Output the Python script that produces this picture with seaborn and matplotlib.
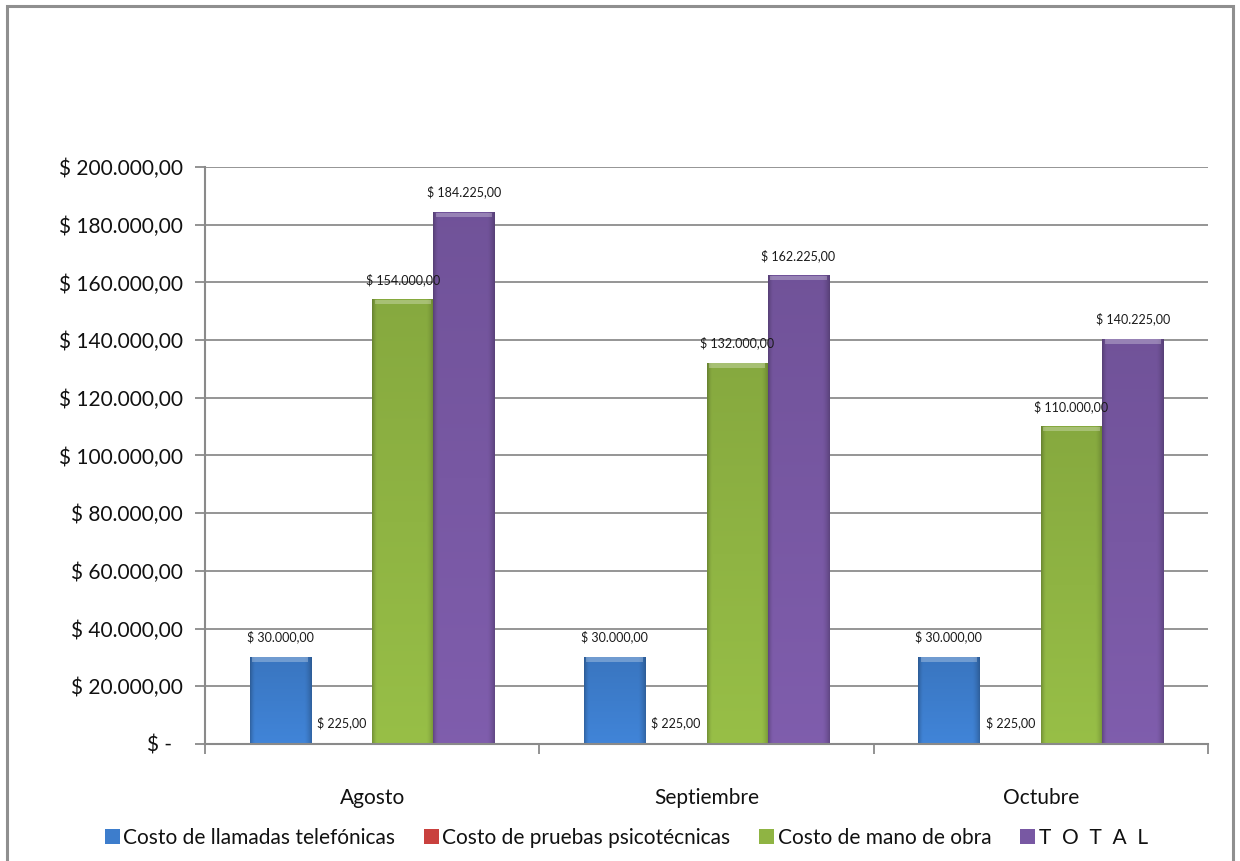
import numpy as np
import pandas as pd
import matplotlib
matplotlib.use("Agg")
import matplotlib.pyplot as plt
import matplotlib.colors as mcolors
from matplotlib.patches import Rectangle
import seaborn as sns

# Monthly costs by concept
months = ["Agosto", "Septiembre", "Octubre"]
series = ["Costo de llamadas telefónicas", "Costo de pruebas psicotécnicas",
          "Costo de mano de obra", "T  O  T  A  L"]
llamadas = [30000, 30000, 30000]
pruebas = [225, 225, 225]
mano_obra = [154000, 132000, 110000]
total = [184225, 162225, 140225]
y_ticks = [0, 20000, 40000, 60000, 80000, 100000, 120000, 140000, 160000, 180000, 200000]

colors = ["#3d7dcc", "#c9413e", "#8fb443", "#7858a3"]

df = pd.DataFrame({
    "Mes": months * 4,
    "Serie": sum([[s] * len(months) for s in series], []),
    "Valor": llamadas + pruebas + mano_obra + total,
})

sns.set_theme(style="white")
plt.rcParams["font.family"] = ["Lato", "DejaVu Sans"]

fig = plt.figure(figsize=(12.4, 8.61), dpi=100)
ax = fig.add_axes([205 / 1240, 1 - 744 / 861, (1208 - 205) / 1240, (744 - 167) / 861])

sns.barplot(data=df, x="Mes", y="Valor", hue="Serie", order=months, hue_order=series,
            palette=colors, width=0.733, gap=0, saturation=1, ax=ax, legend=False,
            edgecolor="none", linewidth=0)

ax.set_ylim(0, 200000)
ax.set_xlim(-0.5, 2.5)


def money(v):
    s = f"{v:,.2f}".replace(",", "X").replace(".", ",").replace("X", ".")
    return f"$ {s}"


# Bevelled shading over each bar
def shade(patch, base):
    x0, y0 = patch.get_x(), patch.get_y()
    w, h = patch.get_width(), patch.get_height()
    if h < 2000:
        return
    rgb = np.array(mcolors.to_rgb(base))
    nx, ny = 60, 200
    xs = np.linspace(0, 1, nx)
    ys = np.linspace(0, 1, ny)
    edge = 1 - 0.22 * (np.clip(1 - xs / 0.08, 0, 1) ** 1.5 + np.clip((xs - 0.88) / 0.12, 0, 1) ** 1.5)
    vert = 1.06 - 0.12 * ys
    fac = vert[:, None] * edge[None, :]
    img = np.clip(rgb[None, None, :] * fac[:, :, None], 0, 1)
    ax.imshow(img, extent=[x0, x0 + w, y0 + h, y0], aspect="auto",
              interpolation="bilinear", zorder=patch.get_zorder() + 0.1, origin="upper")
    band = 1500
    hl = Rectangle((x0 + w * 0.04, y0 + h - band), w * 0.92, band,
                   facecolor="white", alpha=0.28, edgecolor="none",
                   zorder=patch.get_zorder() + 0.2)
    ax.add_patch(hl)


for i, p in enumerate(list(ax.patches)):
    shade(p, colors[i // len(months)])

# Value labels above each bar
for container in ax.containers:
    ax.bar_label(container, labels=[money(v) for v in container.datavalues],
                 padding=10, fontsize=9, color="#1a1a1a", zorder=5)

ax.set_ylim(0, 200000)
ax.set_xlim(-0.5, 2.5)

# Axis styling
ax.set_yticks(y_ticks)
ax.set_yticklabels(["$ -  "] + [money(v) for v in y_ticks[1:]])
ax.yaxis.grid(True, color="#8c8c8c", linewidth=1.3)
ax.set_axisbelow(True)
for side in ["top", "right"]:
    ax.spines[side].set_visible(False)
for side in ["left", "bottom"]:
    ax.spines[side].set_color("#8a8a8a")
    ax.spines[side].set_linewidth(1.5)
ax.tick_params(axis="y", which="major", left=True, length=7, width=1.3, color="#8a8a8a",
               labelsize=15, labelcolor="#111111", pad=9)
ax.set_xticks([0, 1, 2])
ax.set_xticks([-0.5, 0.5, 1.5, 2.5], minor=True)
ax.tick_params(axis="x", which="major", length=0, labelsize=15, labelcolor="#111111", pad=32)
ax.tick_params(axis="x", which="minor", bottom=True, length=7, width=1.3, color="#8a8a8a")
ax.set_xlabel("")
ax.set_ylabel("")

# Legend
handles = [Rectangle((0, 0), 1, 1, facecolor=c, edgecolor="none") for c in colors]
fig.legend(handles, series, loc="center", bbox_to_anchor=(0.505, 1 - 838 / 861), ncol=4,
           frameon=False, fontsize=15, handlelength=0.72, handleheight=0.72,
           handletextpad=0.15, columnspacing=1.4, labelcolor="#111111")

# Chart frame
fig.patches.append(Rectangle((7 / 1240, -0.1), (1233 - 7) / 1240, 1.1 - 6 / 861,
                             transform=fig.transFigure, facecolor="none",
                             edgecolor="#8f8f8f", linewidth=2.2, zorder=0))

fig.savefig("out.png", dpi=100)
